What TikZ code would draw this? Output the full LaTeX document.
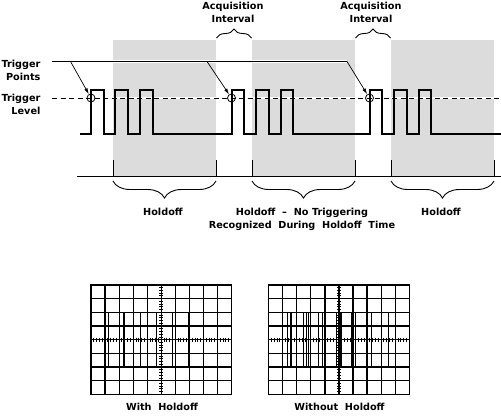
\documentclass[tikz,border=0pt]{standalone}
\usepackage{fontspec}
\setmainfont{DejaVu Sans}
\usetikzlibrary{arrows.meta,decorations.pathreplacing}
\definecolor{holdgray}{RGB}{220,220,220}

\begin{document}
\begin{tikzpicture}[x=1pt,y=-1pt,
    lbl/.style={font=\fontsize{9.7}{13}\selectfont\bfseries},
    sig/.style={line width=2pt},
    trig/.style={circle,draw,line width=0.8pt,inner sep=0pt,minimum size=8pt},
    arr/.style={-{Latex[length=6pt,width=3.5pt]},line width=0.7pt},
    lowbrace/.style={decorate,decoration={brace,amplitude=17pt},line width=0.9pt},
    topbrace/.style={decorate,decoration={brace,amplitude=9pt},line width=0.9pt},
    grd/.style={line width=1.2pt},
    lowlvl/.style={line width=2.4pt}]
    \useasboundingbox (0,0) rectangle (501,416);
    \fill[holdgray] (113,40) rectangle (216,176);
    \fill[holdgray] (252,40) rectangle (355,176);
    \fill[holdgray] (391,40) rectangle (494,176);
    \draw[line width=1pt] (77,176.5) -- (501,176.5);
    \foreach \x in {113,216,252,355,391,494}
        \draw[line width=1pt] (\x,160) -- (\x,176.5);
    \draw[topbrace] (216.5,38) -- (251.5,38);
    \draw[topbrace] (355.5,38) -- (390.5,38);
    \draw[lowbrace] (216,181) -- (113,181);
    \draw[lowbrace] (355,181) -- (252,181);
    \draw[lowbrace] (494,181) -- (391,181);
    \node[lbl,align=center] (acq1) at (233,12) {Acquisition\\Interval};
    \node[lbl,align=center] (acq2) at (371,12) {Acquisition\\Interval};
    \node[lbl] (hold1) at (163,212) {Holdoff};
    \node[lbl,align=center] (hold2) at (302,219) {Holdoff\ \ --\ \ No Triggering\\Recognized\ \ During\ \ Holdoff\ \ Time};
    \node[lbl] (hold3) at (441,212) {Holdoff};
    \node[lbl,align=right,anchor=east] (tpts) at (44,70) {Trigger\\Points};
    \node[lbl,align=right,anchor=east] (tlvl) at (44,104.5) {Trigger\\Level};
    \draw[white,line width=2.5pt] (52,98) -- (501,98);
    \draw[line width=0.9pt,dash pattern=on 5pt off 3.5pt] (52,98) -- (501,98);
    \draw[sig] (80,134) \foreach \s in {91,231.5,369.5}{
        -- (\s,134) -- (\s,90) -- (\s+12.5,90) -- (\s+12.5,134)
        -- (\s+24,134) -- (\s+24,90) -- (\s+37,90) -- (\s+37,134)
        -- (\s+49,134) -- (\s+49,90) -- (\s+61.5,90) -- (\s+61.5,134)} -- (501,134);
    \node[trig] (c1) at (91,98) {};
    \node[trig] (c2) at (231.5,98) {};
    \node[trig] (c3) at (369.5,98) {};
    \coordinate (t0) at (52,61.5);
    \coordinate (b1) at (70.5,61.5);
    \coordinate (b2) at (207,61.5);
    \coordinate (bend) at (347,61.5);
    \draw[white,line width=2.5pt] (t0) -- (bend);
    \draw[arr] (t0) -- (bend) -- (c3);
    \draw[arr] (b1) -- (c1);
    \draw[arr] (b2) -- (c2);
    \foreach \ox/\nm in {91/with,268.7/without}{
        \begin{scope}[shift={(\ox,285)}]
            \draw[grd] (0,0) rectangle (140.5,109.4);
            \foreach \i in {1,...,9} \draw[grd] (\i*14.05,0) -- (\i*14.05,109.4);
            \foreach \j in {1,...,7} \draw[grd] (0,\j*13.675) -- (140.5,\j*13.675);
            \foreach \k in {1,...,49} \draw[line width=0.9pt] (\k*2.81,52.9) -- (\k*2.81,56.5);
            \foreach \k in {1,...,39} \draw[line width=0.9pt] (68.4,\k*2.735) -- (72.1,\k*2.735);
        \end{scope}
    }
    \begin{scope}[shift={(91,285)}]
        \foreach \v in {17.7,33,49.7,65.3,81.3,97.7} \draw[grd] (\v,27.35) -- (\v,82.05);
        \foreach \a/\b in {0/17.7,33/49.7,65.3/81.3,97.7/140.5} \draw[lowlvl] (\a,82.05) -- (\b,82.05);
    \end{scope}
    \begin{scope}[shift={(268.7,285)}]
        \foreach \v in {19,22.3,34.6,38,40,49.8,53.8,68,70.8,72.3,82.8,87,103,119.6}
            \draw[grd] (\v,27.35) -- (\v,82.05);
        \foreach \a/\b in {0/19,22.3/50.6,54.6/70.3,72.3/83.6,88/140.5} \draw[lowlvl] (\a,82.05) -- (\b,82.05);
    \end{scope}
    \node[lbl] (wlbl) at (162,406.5) {With\ \ Holdoff};
    \node[lbl] (wolbl) at (339.5,406.5) {Without\ \ Holdoff};
\end{tikzpicture}
\end{document}
